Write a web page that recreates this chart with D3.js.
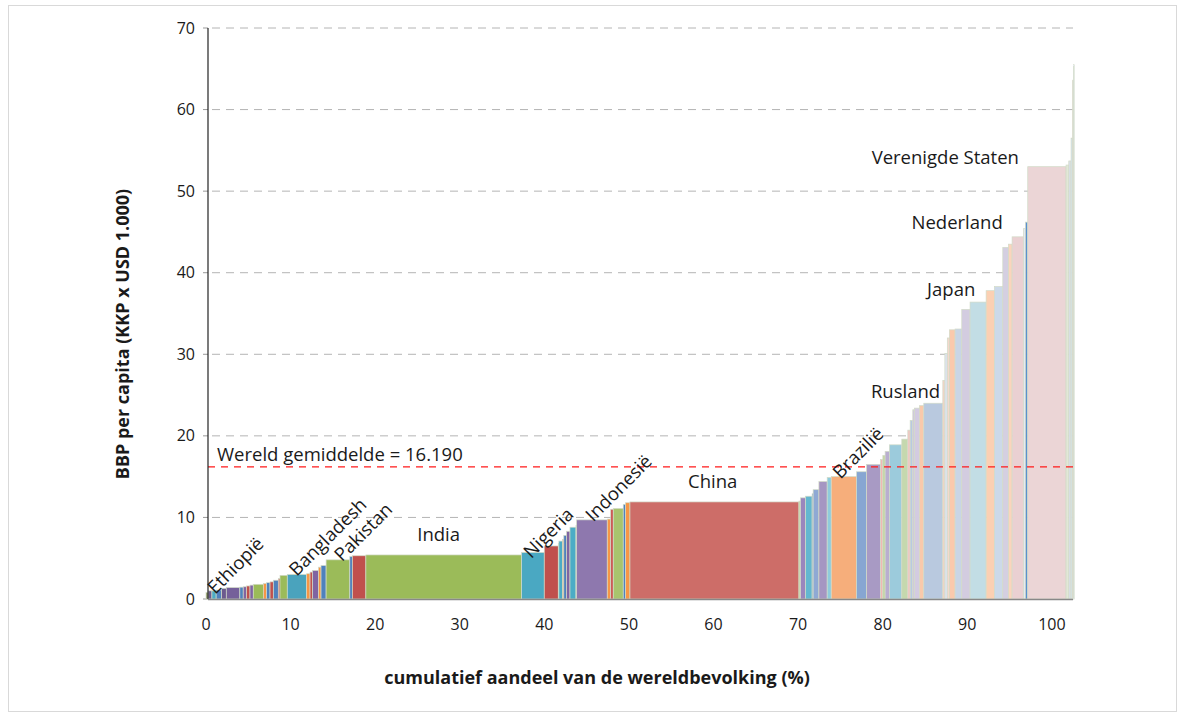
<!DOCTYPE html>
<html><head><meta charset="utf-8">
<script src="https://cdn.jsdelivr.net/npm/d3@7"></script>
<style>
body{margin:0;background:#fff;}
text{font-family:"Open Sans","Noto Sans",sans-serif;fill:#1a1a1a;}
</style></head>
<body><svg id="chart" width="1184" height="715"></svg>
<script>
// population share (% of world) per country, sorted by GDP per capita
const shares = [0.25,0.45,0.5,0.65,0.55,1.6,0.4,0.4,0.4,0.39,
  1.19,0.39,0.4,0.39,0.59,0.2,0.86,2.29,0.4,0.3,0.7,0.3,0.6,2.8,0.3,1.6,
  18.41,2.68,1.66,0.07,0.44,0.14,0.33,0.4,0.71,0.08,3.62,0.4,0.31,1.18,0.27,0.52,
  19.98,0.19,0.59,0.78,0.12,0.68,0.98,0.48,3.0,1.18,1.65,0.27,0.27,0.51,1.46,0.71,
  0.28,0.31,0.19,0.6,0.51,2.25,0.24,0.29,0.25,0.67,0.79,0.98,1.9,0.98,0.99,0.67,0.43,1.34,0.24,0.27,
  4.53,0.32,0.27,0.17,0.1,0.1];
// GDP per capita (PPP, USD x 1.000)
const gdps = [0.8,1.0,1.0,1.1,1.3,1.4,1.45,1.5,1.6,1.7,
  1.8,1.9,2.0,2.1,2.3,2.5,2.9,3.0,3.1,3.3,3.5,3.9,4.1,4.8,5.2,5.3,
  5.4,5.7,6.5,6.8,7.1,7.3,7.8,8.3,8.8,9.0,9.7,9.8,11.0,11.1,11.6,11.8,
  11.9,12.0,12.4,12.6,12.9,13.4,14.4,14.9,15.0,15.6,16.5,17.1,17.6,18.1,18.9,19.6,
  20.7,21.9,23.2,23.4,23.7,24.0,26.8,30.1,32.0,33.0,33.1,35.5,36.4,37.8,38.3,43.1,43.5,44.4,45.4,46.2,
  53.0,53.2,53.7,56.5,63.6,65.5];
const barColors = ["#8a9560","#6c5a8e","#4bacc6","#4f81bd","#6c5a8e","#75609a","#4f81bd","#8064a2","#c0504d","#8064a2",
  "#9bbb59","#f79646","#4f81bd","#c0504d","#4f81bd","#c0504d","#9bbb59","#4aa3bd","#f79646","#c0504d","#8064a2","#f79646","#4f81bd","#9bbb59","#4f81bd","#c0504d",
  "#9bbb59","#4aa8c2","#c0504d","#9bbb59","#4bacc6","#f79646","#4f81bd","#8064a2","#4bacc6","#9bbb59","#8e78ae","#f79646","#cc5b57","#a8c46d","#4f81bd","#f79646",
  "#cd6d68","#c5d6a6","#9a86bd","#63b7d0","#7f9fd0","#8fa9d4","#a596c2","#8fcbdc","#f6ae7b","#87a6d2","#a89ac4","#f0b8b4","#c3d5a2","#b9aed0","#9ccbdc","#c5d8ae",
  "#f2c6c2","#b8c9e2","#cfc6df","#d3cbe1","#f9c9ab","#b9c9df","#f6d2c4","#dde2ee","#f4d8cc","#fac9ad","#c9d5e6","#d3cce0","#c2dde5","#fbd0b3","#ccd9e9","#d4cfe1","#fbd4bc","#ead0d2","#e6e9f0","#5b8fcf",
  "#ebd5d6","#e2e8d7","#d9dfe6","#d2e3ee","#f3dada","#dde6f0"];
const xTicks = [0,10,20,30,40,50,60,70,80,90,100];
const yTicks = [0,10,20,30,40,50,60,70];
const worldAvg = 16.19;
const worldAvgLabel = "Wereld gemiddelde = 16.190";
const countryLabels = ["Ethiopië","Bangladesh","Pakistan","India","Nigeria","Indonesië","China","Brazilië","Rusland","Japan","Nederland","Verenigde Staten"];
const labelX = [3.4,14.3,18.5,27.5,40.4,48.7,59.9,77.0,82.7,88.1,88.8,87.4];
const labelY = [4.2,7.7,8.3,8.0,8.2,13.7,14.5,18.0,25.6,38.1,46.3,54.2];
const labelRot = [-45,-45,-45,0,-45,-45,0,-45,0,0,0,0];
const yTitle = "BBP per capita (KKP x USD 1.000)";
const xTitle = "cumulatief aandeel van de wereldbevolking (%)";

const svg = d3.select("#chart");
svg.append("rect").attr("x",8.5).attr("y",5.5).attr("width",1168).attr("height",706)
  .attr("fill","none").attr("stroke","#d9d9d9");

const x0 = 206, x1 = 1073;
const x = d3.scaleLinear().domain([0,102.5]).range([x0, x1]);
const y = d3.scaleLinear().domain([0,70]).range([599, 28]);

// cumulative positions
let cum = 0;
const bars = shares.map((s,i)=>{const b={start:cum,end:cum+s,v:gdps[i],c:barColors[i]};cum+=s;return b;});

// gridlines
svg.append("g").selectAll("line").data(yTicks.filter(t=>t>0)).join("line")
  .attr("x1",x0+6).attr("x2",x1).attr("y1",d=>y(d)).attr("y2",d=>y(d))
  .attr("stroke","#b4b4b4").attr("stroke-width",1).attr("stroke-dasharray","8,6");
// tick marks
svg.append("g").selectAll("line").data(yTicks).join("line")
  .attr("x1",x0-3).attr("x2",x0+2).attr("y1",d=>y(d)).attr("y2",d=>y(d))
  .attr("stroke","#999");

// bars
svg.append("g").selectAll("rect").data(bars).join("rect")
  .attr("x",d=>x(d.start)).attr("width",d=>Math.max(0.5,x(d.end)-x(d.start)))
  .attr("y",d=>y(d.v)).attr("height",d=>y(0)-y(d.v))
  .attr("fill",d=>d.c).attr("stroke","#d2dbc8").attr("stroke-width",0.7);

// world average line
svg.append("line").attr("x1",x0+2).attr("x2",x1).attr("y1",y(worldAvg)).attr("y2",y(worldAvg))
  .attr("stroke","#ff1a1a").attr("stroke-width",1.3).attr("stroke-dasharray","7,6");
svg.append("text").attr("x",x(1.3)).attr("y",y(worldAvg)-6).attr("font-size",18.5).text(worldAvgLabel);

// axes lines
svg.append("line").attr("x1",x0+2).attr("x2",x0+2).attr("y1",y(70)).attr("y2",y(0)).attr("stroke","#222").attr("stroke-width",1.2);
svg.append("line").attr("x1",x0+2).attr("x2",x1).attr("y1",y(0)+0.5).attr("y2",y(0)+0.5).attr("stroke","#888").attr("stroke-width",1.5);

// tick labels
svg.append("g").selectAll("text").data(yTicks).join("text")
  .attr("x",195).attr("y",d=>y(d)).attr("dy","0.35em").attr("text-anchor","end").attr("font-size",16).text(d=>d);
svg.append("g").selectAll("text").data(xTicks).join("text")
  .attr("x",d=>x(d)).attr("y",630).attr("text-anchor","middle").attr("font-size",16).text(d=>d);

// country labels
svg.append("g").selectAll("text").data(countryLabels).join("text")
  .attr("transform",(d,i)=>`translate(${x(labelX[i])},${y(labelY[i])}) rotate(${labelRot[i]})`)
  .attr("text-anchor","middle").attr("dominant-baseline","central").attr("font-size",18.5).text(d=>d);

// axis titles
svg.append("text").attr("transform","translate(122,334) rotate(-90)").attr("text-anchor","middle")
  .attr("dominant-baseline","central").attr("font-size",18).attr("font-weight","bold").text(yTitle);
svg.append("text").attr("x",597).attr("y",684).attr("text-anchor","middle")
  .attr("font-size",18).attr("font-weight","bold").text(xTitle);
</script></body></html>
